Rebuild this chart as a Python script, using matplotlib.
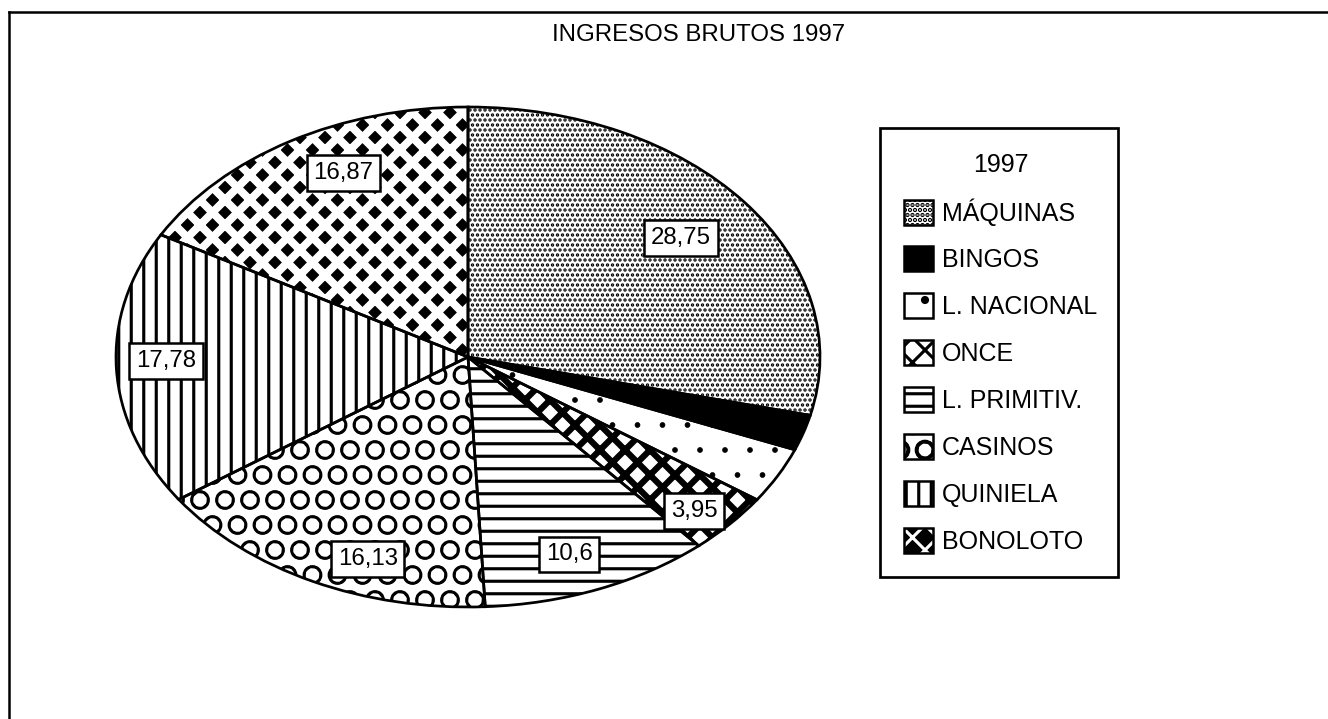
import numpy as np
import matplotlib
matplotlib.use("Agg")
import matplotlib.pyplot as plt
import matplotlib.patches as mpatches
from matplotlib.lines import Line2D

plt.rcParams['font.family'] = ['Liberation Sans', 'DejaVu Sans']
plt.rcParams['hatch.linewidth'] = 1.5

# datos (porcentajes de ingresos brutos 1997)
categorias = ['MÁQUINAS', 'BINGOS', 'L. NACIONAL', 'ONCE', 'L. PRIMITIV.',
              'CASINOS', 'QUINIELA', 'BONOLOTO']
valores = [28.75, 2.3, 3.62, 3.95, 10.6, 16.13, 17.78, 16.87]
etiquetas = ['28,75', None, None, '3,95', '10,6', '16,13', '17,78', '16,87']

# estilo de cada sector: relleno, color de la trama, trama, grosor de trama
rellenos = ['white', 'black', 'white', 'white', 'white', 'white', 'white', 'black']
colores_trama = ['black', 'black', 'black', 'black', 'black', 'black', 'black', 'white']
tramas = ['.....', None, '.', 'xx', '--', 'O', '||', 'xx']
grosor_trama = [1.1, 1.5, 0.3, 3.0, 1.5, 1.1, 1.5, 3.8]

# posicion de las etiquetas: fraccion del radio y giro en grados
radio_etq = [0.77, 0, 0, 0.89, 0.84, 0.857, 0.858, 0.817]
giro_etq = [0, 0, 0, -1.9, -1.9, 6.8, -1.7, -4.7]

W, H = 1328, 719
DPI = 150
fig = plt.figure(figsize=(W / DPI, H / DPI), dpi=DPI)

# tarta eliptica: centro y semiejes en pixeles
cx, cy, rx, ry = 468, 357, 352, 250
m = 1.03
ax = fig.add_axes([(cx - rx * m) / W, (H - cy - ry * m) / H,
                   2 * rx * m / W, 2 * ry * m / H])

wedges, _ = ax.pie(valores, startangle=90, counterclock=False,
                   wedgeprops=dict(linewidth=0))
for w, fc, hc, ht, lw in zip(wedges, rellenos, colores_trama, tramas, grosor_trama):
    w.set_facecolor(fc)
    w.set_edgecolor(hc)
    w.set_linewidth(0)
    if ht:
        w.set_hatch(ht)
    if hasattr(w, 'set_hatch_linewidth'):
        w.set_hatch_linewidth(lw)

# contornos de los sectores
ax.pie(valores, startangle=90, counterclock=False,
       wedgeprops=dict(fill=False, edgecolor='black', linewidth=1.3))

ax.set_aspect('auto')
ax.set_xlim(-m, m)
ax.set_ylim(-m, m)
ax.axis('off')

# etiquetas con recuadro
total = sum(valores)
acum = np.cumsum(valores) - np.array(valores) / 2
angulos = 90 - 360 * acum / total
for a, g, r, t in zip(angulos, giro_etq, radio_etq, etiquetas):
    if t is None:
        continue
    th = np.deg2rad(a + g)
    ax.text(r * np.cos(th), r * np.sin(th), t, ha='center', va='center',
            fontsize=11.5, zorder=5,
            bbox=dict(boxstyle='square,pad=0.28', fc='white', ec='black', lw=1.2))

# leyenda
handles = []
for w in wedges:
    p = mpatches.Patch(facecolor=w.get_facecolor(), edgecolor=w.get_edgecolor(),
                       hatch=w.get_hatch(), linewidth=0)
    if hasattr(w, 'get_hatch_linewidth') and hasattr(p, 'set_hatch_linewidth'):
        p.set_hatch_linewidth(w.get_hatch_linewidth())
    borde = mpatches.Patch(facecolor='none', edgecolor='black', linewidth=1.2)
    handles.append((p, borde))

leg = fig.legend(handles, categorias, title='1997', loc='upper left',
                 bbox_to_anchor=(904 / W, 1 - 153 / H), fontsize=12,
                 title_fontsize=12, frameon=False, handlelength=1.16,
                 handleheight=1.16, handletextpad=0.35, labelspacing=0.84,
                 borderpad=0, borderaxespad=0)

# marco de la leyenda
fig.add_artist(mpatches.Rectangle((880 / W, 1 - 577 / H), (1118 - 880) / W,
                                  (577 - 128) / H, transform=fig.transFigure,
                                  fill=False, edgecolor='black', linewidth=1.3))

fig.text(699 / W, 1 - 35 / H, 'INGRESOS BRUTOS 1997', ha='center', va='center',
         fontsize=11.5)

# marco exterior (solo arriba e izquierda)
fig.add_artist(Line2D([9 / W, 1], [1 - 12 / H, 1 - 12 / H], color='black', lw=1.2))
fig.add_artist(Line2D([9 / W, 9 / W], [0, 1 - 12 / H], color='black', lw=1.2))

fig.savefig('out.png', dpi=DPI)
